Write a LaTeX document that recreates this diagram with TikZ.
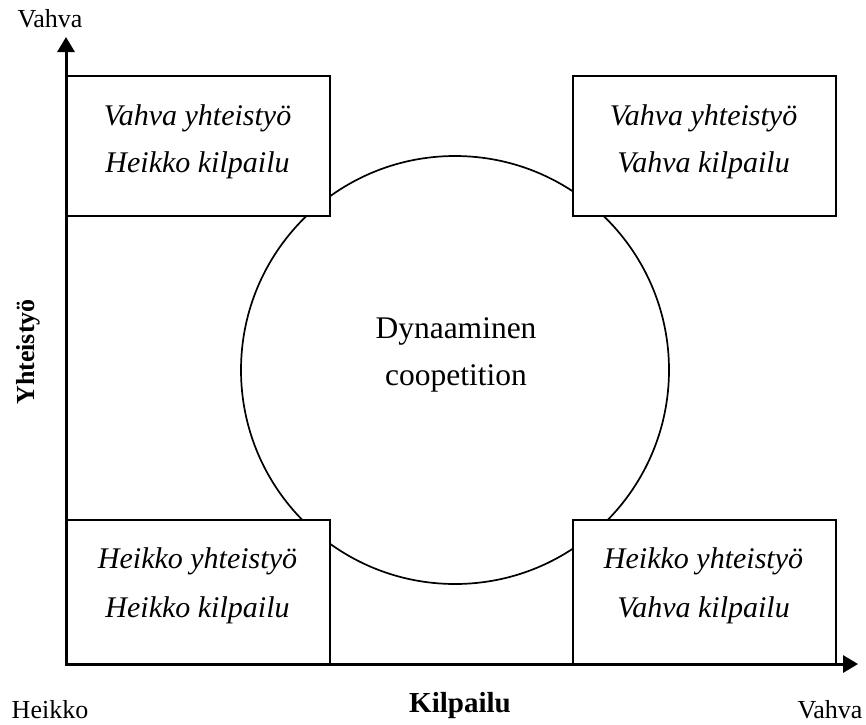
\documentclass[tikz,border=0pt]{standalone}
\usepackage{fontspec}
\setmainfont{Liberation Serif}
\usetikzlibrary{arrows.meta}
\begin{document}
\begin{tikzpicture}[x=1pt,y=-1pt,
  quad/.style={draw,line width=1.8pt,fill=white,inner sep=0pt,anchor=north west,minimum width=263pt},
  boxtxt/.style={font=\fontsize{30}{36}\selectfont\itshape,anchor=base,inner sep=0pt},
  ctxt/.style={font=\fontsize{31.5}{37}\selectfont,anchor=base,inner sep=0pt},
  lbl/.style={font=\fontsize{26}{30}\selectfont,anchor=base,inner sep=0pt},
  axtitle/.style={font=\fontsize{29}{33}\selectfont\bfseries,anchor=base,inner sep=0pt},
  axarrow/.style={line width=3pt,{Triangle[length=15pt,width=17pt]}-{Triangle[length=15pt,width=17pt]}}]
\useasboundingbox (0,0) rectangle (866,724);
% central circle
\node[circle,draw,line width=1.7pt,minimum size=428pt,inner sep=0pt] (c) at (455,370) {};
\node[ctxt] (c1) at (456,338) {Dynaaminen};
\node[ctxt] (c2) at (456,385) {coopetition};
% quadrant boxes
\node[quad,minimum height=140pt] (tl) at (66,75) {};
\node[quad,minimum height=140pt] (tr) at (572,75) {};
\node[quad,minimum height=145pt] (bl) at (66,519) {};
\node[quad,minimum height=145pt] (br) at (572,519) {};
\node[boxtxt] (tl1) at (197.5,125) {Vahva yhteistyö};
\node[boxtxt] (tl2) at (197.5,172) {Heikko kilpailu};
\node[boxtxt] (tr1) at (703.5,125) {Vahva yhteistyö};
\node[boxtxt] (tr2) at (703.5,172) {Vahva kilpailu};
\node[boxtxt] (bl1) at (197.5,568) {Heikko yhteistyö};
\node[boxtxt] (bl2) at (197.5,617) {Heikko kilpailu};
\node[boxtxt] (br1) at (703.5,568) {Heikko yhteistyö};
\node[boxtxt] (br2) at (703.5,617) {Vahva kilpailu};
% axes
\coordinate (ytip) at (66,37);
\coordinate (xtip) at (858,664);
\draw[axarrow] (ytip) |- (xtip);
% axis labels
\node[lbl] (ytop) at (50,27) {Vahva};
\node[lbl] (xleft) at (50,718) {Heikko};
\node[lbl] (xright) at (830,718) {Vahva};
\node[axtitle] (xt) at (460,712) {Kilpailu};
\node[axtitle,rotate=90,anchor=center,font=\fontsize{26}{30}\selectfont\bfseries] (yt) at (28,352) {Yhteistyö};
\end{tikzpicture}
\end{document}
